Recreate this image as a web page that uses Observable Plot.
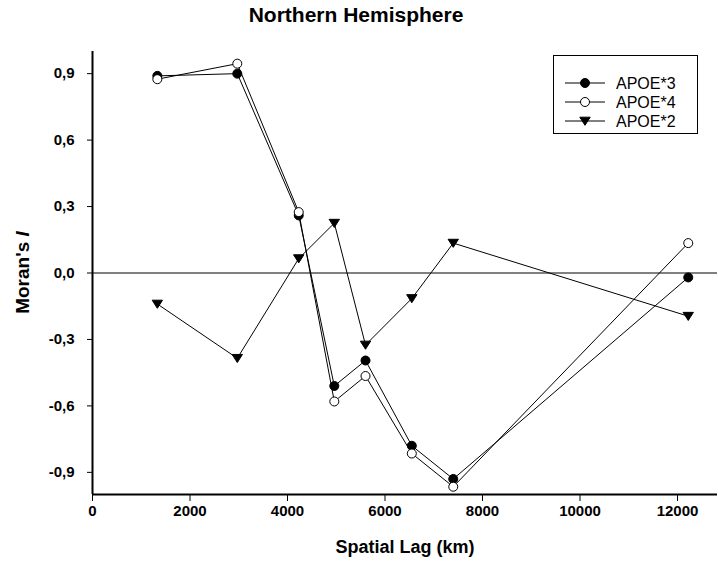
<!DOCTYPE html>
<html>
<head>
<meta charset="utf-8">
<script src="https://cdn.jsdelivr.net/npm/d3@7"></script>
<script src="https://cdn.jsdelivr.net/npm/@observablehq/plot@0.6"></script>
<style>
  body { margin: 0; background: #fff; }
  svg { display: block; }
</style>
</head>
<body>
<div id="chart"></div>
<script>
// Data
const lags = [1330, 2970, 4230, 4960, 5600, 6550, 7400, 12220];
const apoe3 = [0.89, 0.90, 0.26, -0.51, -0.395, -0.78, -0.93, -0.02];
const apoe4 = [0.875, 0.945, 0.275, -0.58, -0.465, -0.815, -0.965, 0.135];
const apoe2 = [-0.14, -0.385, 0.065, 0.225, -0.325, -0.115, 0.135, -0.195];
const seriesNames = ["APOE*3", "APOE*4", "APOE*2"];
const xTicks = [0, 2000, 4000, 6000, 8000, 10000, 12000];
const yTicks = [-0.9, -0.6, -0.3, 0, 0.3, 0.6, 0.9];
const titleText = "Northern Hemisphere";
const xLabel = "Spatial Lag (km)";

const rows = (vals, name) => lags.map((x, i) => ({x, y: vals[i], s: name}));
const d3r = rows(apoe3, seriesNames[0]);
const d4r = rows(apoe4, seriesNames[1]);
const d2r = rows(apoe2, seriesNames[2]);

const triangleDown = {
  draw(context, size) {
    const r = Math.sqrt(size / Math.PI);
    context.moveTo(-r * 1.15, -r * 0.85);
    context.lineTo(r * 1.15, -r * 0.85);
    context.lineTo(0, r * 0.95);
    context.closePath();
  }
};

const fmt = d => d.toFixed(1).replace(".", ",");
const W = 718, H = 573;
const mL = 92, mR = 1, mT = 51, mB = 79;

const plot = Plot.plot({
  width: W,
  height: H,
  marginLeft: mL,
  marginRight: mR,
  marginTop: mT,
  marginBottom: mB,
  style: {fontFamily: "'Liberation Sans', Arial, sans-serif", fontSize: "15px", fontWeight: "bold", color: "#000", background: "#fff"},
  x: {domain: [0, 12820]},
  y: {domain: [-1, 1]},
  marks: [
    Plot.ruleY([0], {stroke: "#000", strokeWidth: 1}),
    Plot.axisX({ticks: xTicks, tickFormat: d => String(d), tickSize: 7, tickPadding: 4, label: null, fontSize: 15}),
    Plot.axisY({ticks: yTicks, tickFormat: fmt, tickSize: 5, tickPadding: 13, label: null, fontSize: 15}),
    Plot.ruleX([0], {stroke: "#000", strokeWidth: 2}),
    Plot.ruleY([-1], {stroke: "#000", strokeWidth: 2}),
    Plot.line(d3r, {x: "x", y: "y", stroke: "#000", strokeWidth: 1}),
    Plot.line(d4r, {x: "x", y: "y", stroke: "#000", strokeWidth: 1}),
    Plot.line(d2r, {x: "x", y: "y", stroke: "#000", strokeWidth: 1}),
    Plot.dot(d3r, {x: "x", y: "y", r: 4.5, fill: "#000", stroke: "#000", strokeWidth: 1}),
    Plot.dot(d4r, {x: "x", y: "y", r: 4.5, fill: "#fff", stroke: "#000", strokeWidth: 1}),
    Plot.dot(d2r, {x: "x", y: "y", r: 4.5, symbol: triangleDown, fill: "#000", stroke: "#000", strokeWidth: 1}),
    Plot.text([titleText], {frameAnchor: "top", dx: -49, dy: -44, fontSize: 21, fontWeight: "bold", fill: "#000"}),
    Plot.text([xLabel], {frameAnchor: "bottom", dy: 58, fontSize: 18, fontWeight: "bold", fill: "#000"})
  ]
});

const svg = d3.select(plot);
// Y axis label with italic I
const yl = svg.append("text")
  .attr("transform", `translate(22, ${(mT + H - mB) / 2}) rotate(-90)`)
  .attr("text-anchor", "middle")
  .attr("dominant-baseline", "central")
  .attr("font-size", 19)
  .attr("font-weight", "bold")
  .attr("fill", "#000");
yl.append("tspan").text("Moran's ");
yl.append("tspan").attr("font-style", "italic").text("I");

// Legend
const lg = svg.append("g").attr("font-family", "'Liberation Sans', Arial, sans-serif");
lg.append("rect").attr("x", 553.5).attr("y", 55.5).attr("width", 144).attr("height", 78)
  .attr("fill", "#fff").attr("stroke", "#000").attr("stroke-width", 1);
const ys = [83, 102, 121];
seriesNames.forEach((name, i) => {
  const y = ys[i];
  lg.append("line").attr("x1", 565).attr("x2", 605).attr("y1", y).attr("y2", y).attr("stroke", "#000");
  if (i === 2) {
    lg.append("path").attr("d", "M-5.2,-3.8L5.2,-3.8L0,4.3Z").attr("transform", `translate(585,${y})`).attr("fill", "#000").attr("stroke", "#000");
  } else {
    lg.append("circle").attr("cx", 585).attr("cy", y).attr("r", 4.5)
      .attr("fill", i === 0 ? "#000" : "#fff").attr("stroke", "#000");
  }
  lg.append("text").attr("x", 616).attr("y", y).attr("dy", "0.35em")
    .attr("text-anchor", "start")
    .attr("font-size", 16).attr("font-weight", "normal").attr("fill", "#000").text(name);
});

document.getElementById("chart").appendChild(plot);
</script>
</body>
</html>
